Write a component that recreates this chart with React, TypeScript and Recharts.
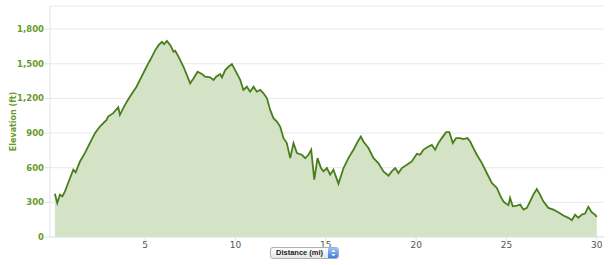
import { AreaChart, Area, XAxis, YAxis, CartesianGrid, Label } from "recharts"

const distance = [
  0, 0.13, 0.28, 0.41, 0.56, 0.74, 1.02, 1.15, 1.39, 1.66, 2.03, 2.22, 2.49, 2.86, 2.95, 3.23, 3.51, 3.6, 3.88, 4.15,
  4.52, 4.8, 5.0, 5.17, 5.28, 5.56, 5.74, 5.93, 6.05, 6.2, 6.39, 6.57, 6.66, 6.85, 7.12, 7.31, 7.49, 7.68, 7.9, 8.14,
  8.32, 8.6, 8.78, 8.93, 9.15, 9.25, 9.43, 9.61, 9.8, 9.98, 10.26, 10.44, 10.63, 10.81, 11.0, 11.18, 11.37, 11.55, 11.74, 11.92,
  12.1, 12.29, 12.47, 12.66, 12.84, 13.03, 13.21, 13.4, 13.67, 13.86, 14.04, 14.19, 14.36, 14.54, 14.73, 14.87, 15.06, 15.24, 15.42, 15.7,
  15.98, 16.25, 16.53, 16.77, 16.94, 17.08, 17.36, 17.64, 17.91, 18.19, 18.47, 18.65, 18.84, 19.02, 19.21, 19.49, 19.76, 20.04, 20.22, 20.4,
  20.68, 20.87, 21.05, 21.23, 21.42, 21.66, 21.84, 22.03, 22.21, 22.43, 22.62, 22.84, 22.99, 23.17, 23.36, 23.64, 23.91, 24.19, 24.47, 24.65,
  24.83, 24.93, 25.11, 25.2, 25.35, 25.57, 25.76, 25.94, 26.13, 26.31, 26.49, 26.68, 26.86, 27.04, 27.32, 27.6, 27.87, 28.15, 28.43, 28.62,
  28.8, 28.98, 29.17, 29.35, 29.53, 29.72, 29.9, 30.0,
]

const elevation = [
  375, 295, 367, 352, 395, 470, 582, 560, 654, 726, 841, 899, 956, 1014, 1043, 1072, 1124, 1057, 1144, 1215,
  1301, 1388, 1450, 1503, 1532, 1618, 1661, 1690, 1670, 1698, 1661, 1604, 1612, 1560, 1474, 1402, 1331, 1374, 1431, 1411,
  1388, 1382, 1359, 1388, 1411, 1382, 1445, 1474, 1497, 1445, 1360, 1273, 1301, 1258, 1301, 1258, 1273, 1244, 1201, 1100,
  1029, 999, 956, 856, 813, 683, 813, 727, 712, 683, 712, 755, 496, 683, 597, 568, 597, 539, 582, 462,
  597, 683, 755, 827, 870, 827, 770, 683, 640, 568, 531, 568, 597, 554, 597, 626, 654, 720, 712, 755,
  784, 798, 755, 813, 856, 908, 908, 813, 856, 856, 847, 856, 827, 770, 712, 640, 554, 468, 425, 360,
  309, 295, 276, 338, 266, 272, 280, 237, 252, 309, 367, 416, 367, 309, 252, 237, 214, 186, 166, 145,
  194, 166, 194, 203, 261, 214, 194, 174,
]

const xTicks = [5, 10, 15, 20, 25, 30]
const yTicks = [0, 300, 600, 900, 1200, 1500, 1800]

const data = distance.map((d, i) => ({ d, elev: elevation[i] }))

export default function App() {
  return (
    <div style={{ position: "absolute", left: 0, top: 0, width: 614, height: 265, background: "#fff", fontFamily: "'DejaVu Sans', sans-serif" }}>
      <AreaChart width={614} height={265} data={data} margin={{ top: 6, right: 10, bottom: 0, left: 0 }}>
        <CartesianGrid vertical={false} stroke="#e6e9ee" strokeWidth={1} />
        <XAxis
          dataKey="d"
          type="number"
          domain={[-0.27, 30.4]}
          ticks={xTicks}
          allowDataOverflow
          height={28}
          stroke="#dfe4ea"
          tickSize={4}
          tickMargin={1}
          tick={{ fill: "#555", fontSize: 9 }}
        />
        <YAxis
          type="number"
          domain={[0, 2000]}
          ticks={yTicks}
          width={50}
          stroke="#dfe4ea"
          tickSize={5}
          tickMargin={1}
          tickFormatter={(v: number) => v.toLocaleString("en-US")}
          tick={{ fill: "#6a9a2c", fontSize: 8.5, fontWeight: "bold" }}
        >
          <Label
            value="Elevation (ft)"
            angle={-90}
            position="insideLeft"
            offset={13}
            style={{ fill: "#6a9a2c", fontSize: 8, fontWeight: "bold", textAnchor: "middle" }}
          />
        </YAxis>
        <Area
          type="linear"
          dataKey="elev"
          stroke="#4a7e1c"
          strokeWidth={1.8}
          fill="#d4e3c6"
          fillOpacity={1}
          isAnimationActive={false}
          dot={false}
          activeDot={false}
        />
      </AreaChart>
      <div
        style={{
          position: "absolute",
          left: 270,
          top: 247,
          width: 69,
          height: 12,
          border: "1px solid #a9b0b8",
          borderRadius: 3,
          background: "linear-gradient(#ffffff, #e4e6e9)",
          boxSizing: "border-box",
          display: "flex",
          alignItems: "center",
          overflow: "hidden",
        }}
      >
        <span
          style={{
            width: 56,
            fontFamily: "'Liberation Sans', Arial, sans-serif",
            fontSize: 7.5,
            fontWeight: "bold",
            color: "#222",
            paddingLeft: 5,
            lineHeight: "10px",
            whiteSpace: "nowrap",
            overflow: "hidden",
          }}
        >
          Distance (mi)
        </span>
        <svg width={11} height={10} style={{ display: "block", marginLeft: "auto" }}>
          <defs>
            <linearGradient id="btn" x1="0" y1="0" x2="0" y2="1">
              <stop offset="0" stopColor="#9cc2f4" />
              <stop offset="1" stopColor="#3a7de0" />
            </linearGradient>
          </defs>
          <rect x={0} y={0} width={11} height={10} fill="url(#btn)" />
          <path d="M3.5 4 L5.5 1.5 L7.5 4 Z" fill="#fff" />
          <path d="M3.5 6 L5.5 8.5 L7.5 6 Z" fill="#fff" />
        </svg>
      </div>
    </div>
  )
}
